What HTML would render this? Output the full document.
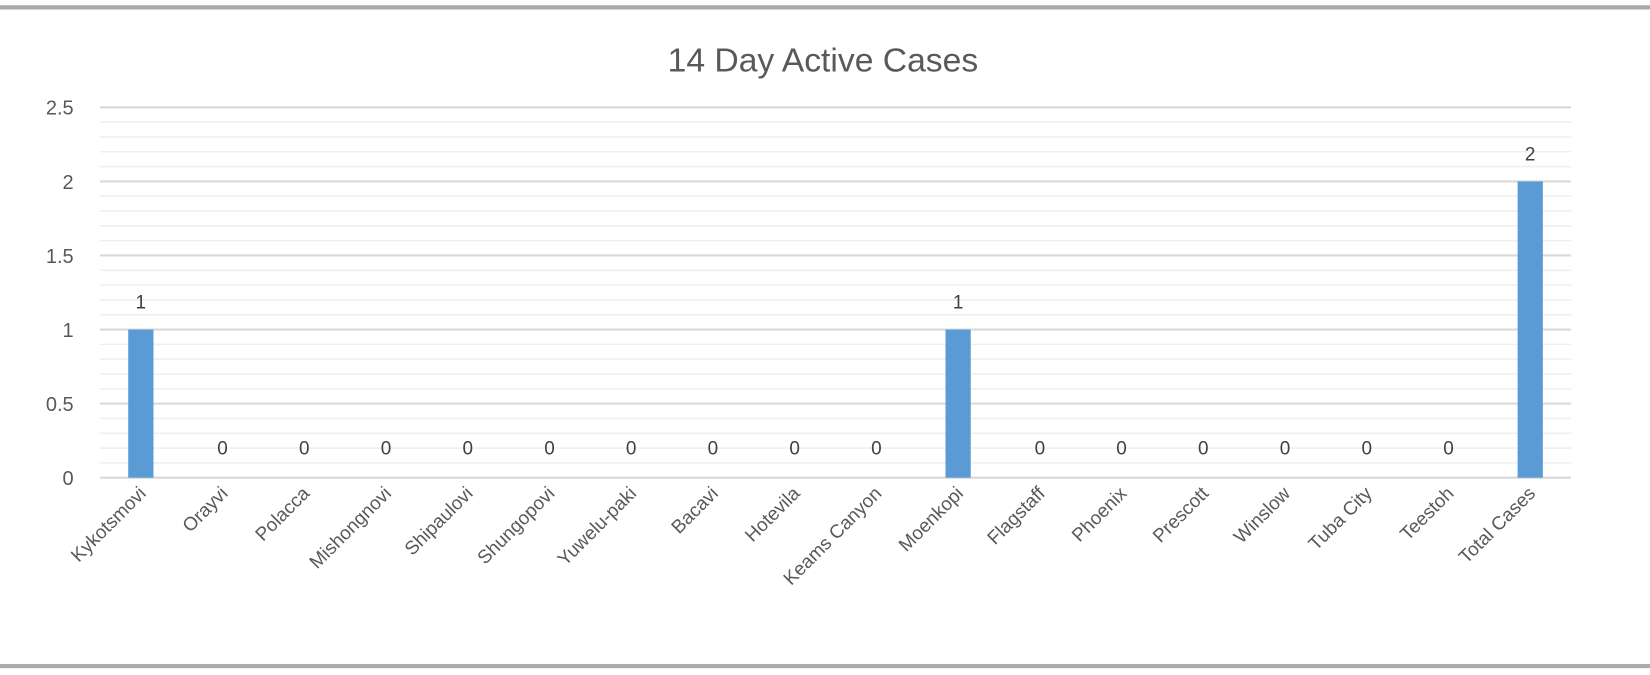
<!DOCTYPE html>
<html><head><meta charset="utf-8"><style>
body{margin:0;background:#fff;}
svg{display:block;font-family:"Liberation Sans",Calibri,sans-serif;}
</style></head><body>
<svg id="c" width="1650" height="675" viewBox="0 0 1568 641.5" preserveAspectRatio="none">
<rect x="0" y="5" width="1568" height="4" fill="#aaaaaa"/>
<rect x="0" y="631" width="1568" height="4" fill="#aaaaaa"/>
<text x="782" y="68" text-anchor="middle" font-size="32" fill="#595959">14 Day Active Cases</text>
<g id="grid"></g><g id="bars"></g><g id="labels"></g>
</svg>
<script>
const categories=["Kykotsmovi","Orayvi","Polacca","Mishongnovi","Shipaulovi","Shungopovi","Yuwelu-paki","Bacavi","Hotevila","Keams Canyon","Moenkopi","Flagstaff","Phoenix","Prescott","Winslow","Tuba City","Teestoh","Total Cases"];
const values=[1,0,0,0,0,0,0,0,0,0,1,0,0,0,0,0,0,2];
const yTicks=[0,0.5,1,1.5,2,2.5];
const yMax=2.5;
const L=95,R=1493,T=102,B=454;
const NS="http://www.w3.org/2000/svg";
function y(v){return B-(v/yMax)*(B-T);}
function x(i){return L+(i+0.5)*(R-L)/categories.length;}
function mk(t,a,p){const e=document.createElementNS(NS,t);for(const k in a)e.setAttribute(k,a[k]);p.appendChild(e);return e;}
const grid=document.getElementById('grid'),bars=document.getElementById('bars'),labels=document.getElementById('labels');
for(let k=1;k<25;k++){if(k%5===0)continue;const v=k*0.1;
 const l=mk('line',{x1:L,x2:R,y1:y(v),y2:y(v),stroke:'#efefef','stroke-width':1.5},grid);
 
 }
yTicks.forEach(v=>{
 const l=mk('line',{x1:L,x2:R,y1:y(v),y2:y(v),stroke:'#d9d9d9','stroke-width':2},grid);
 
 
 const t=mk('text',{x:70,y:y(v)+7,'text-anchor':'end','font-size':19,fill:'#595959'},grid);
 t.textContent=String(v);
 
 
});
categories.forEach((c,i)=>{
 const v=values[i],cx=x(i);
 if(v>0){const r=mk('rect',{x:cx-12,y:y(v),width:24,height:B-y(v),fill:'#5b9bd5'},bars);
  
  }
 const ty=v>0?y(v)-20:y(0)-22;
 const t=mk('text',{x:cx,y:ty,'text-anchor':'middle','font-size':18,fill:'#404040'},labels);
 t.textContent=String(v);
 
 
 const xl=mk('text',{x:cx+6,y:470,'text-anchor':'end','font-size':18,fill:'#595959',transform:`rotate(-45 ${cx+6} 470)`},labels);
 xl.textContent=c;
 
 
});
</script>
</body></html>
